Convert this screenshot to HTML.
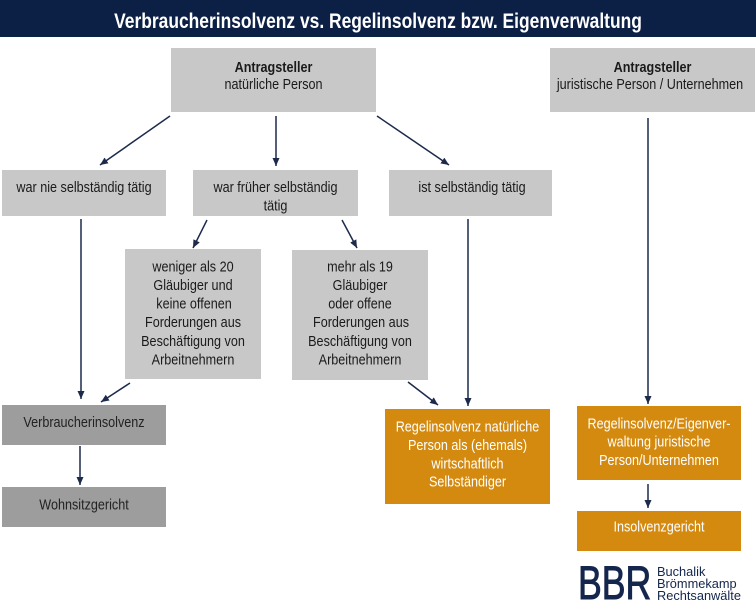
<!DOCTYPE html>
<html>
<head>
<meta charset="utf-8">
<style>
  html,body{margin:0;padding:0;background:#ffffff;}
  svg{display:block;}
  text{font-family:"Liberation Sans", Arial, sans-serif;}
</style>
</head>
<body>
<svg width="756" height="611" viewBox="0 0 756 611" xmlns="http://www.w3.org/2000/svg">
  <defs>
    <marker id="ah" markerUnits="userSpaceOnUse" markerWidth="9" markerHeight="8" refX="8" refY="3.5" orient="auto">
      <path d="M0,0 L8,3.5 L0,7 z" fill="#1c2b4b"/>
    </marker>
  </defs>

  <!-- Title bar -->
  <rect x="0" y="0" width="756" height="37" fill="#0c1f45"/>
  <text transform="translate(378,28) scale(0.83,1)" text-anchor="middle" font-size="21" font-weight="bold" fill="#ffffff">Verbraucherinsolvenz vs. Regelinsolvenz bzw. Eigenverwaltung</text>

  <!-- Boxes -->
  <g fill="#c8c8c8">
    <rect x="171" y="48" width="205" height="64"/>
    <rect x="550" y="48" width="205" height="64"/>
    <rect x="2" y="170" width="164" height="46"/>
    <rect x="193" y="170" width="165" height="46"/>
    <rect x="389" y="170" width="163" height="46"/>
    <rect x="125" y="249" width="136" height="130"/>
    <rect x="292" y="250" width="136" height="130"/>
  </g>
  <g fill="#9d9d9d">
    <rect x="2" y="405" width="164" height="40"/>
    <rect x="2" y="487" width="164" height="40"/>
  </g>
  <g fill="#d38a0f">
    <rect x="385" y="409" width="165" height="95"/>
    <rect x="577" y="406" width="164" height="74"/>
    <rect x="577" y="511" width="164" height="40"/>
  </g>

  <!-- Text in boxes -->
  <g font-size="14.5" fill="#1a1a1a" text-anchor="middle">
    <text transform="translate(273.5,72) scale(0.87,1)" font-weight="bold">Antragsteller</text>
    <text transform="translate(273.5,89) scale(0.87,1)">natürliche Person</text>

    <text transform="translate(652.5,72) scale(0.87,1)" font-weight="bold">Antragsteller</text>
    <text transform="translate(650,89) scale(0.87,1)">juristische Person / Unternehmen</text>

    <text transform="translate(84,192) scale(0.87,1)">war nie selbständig tätig</text>
    <text transform="translate(275.5,192) scale(0.87,1)">war früher selbständig</text>
    <text transform="translate(275.5,210.5) scale(0.87,1)">tätig</text>
    <text transform="translate(472,192) scale(0.87,1)">ist selbständig tätig</text>

    <text transform="translate(193,271.5) scale(0.87,1)">weniger als 20</text>
    <text transform="translate(193,290) scale(0.87,1)">Gläubiger und</text>
    <text transform="translate(194,308.6) scale(0.87,1)">keine offenen</text>
    <text transform="translate(193,327.2) scale(0.87,1)">Forderungen aus</text>
    <text transform="translate(193,345.8) scale(0.87,1)">Beschäftigung von</text>
    <text transform="translate(193,364.4) scale(0.87,1)">Arbeitnehmern</text>

    <text transform="translate(360,271.5) scale(0.87,1)">mehr als 19</text>
    <text transform="translate(360,290) scale(0.87,1)">Gläubiger</text>
    <text transform="translate(360,308.6) scale(0.87,1)">oder offene</text>
    <text transform="translate(361,327.2) scale(0.87,1)">Forderungen aus</text>
    <text transform="translate(360,345.8) scale(0.87,1)">Beschäftigung von</text>
    <text transform="translate(360,364.4) scale(0.87,1)">Arbeitnehmern</text>

    <text transform="translate(84,427) scale(0.87,1)" fill="#222">Verbraucherinsolvenz</text>
    <text transform="translate(84,509.5) scale(0.87,1)" fill="#222">Wohnsitzgericht</text>
  </g>
  <g font-size="14.5" fill="#ffffff" text-anchor="middle">
    <text transform="translate(467.5,431.5) scale(0.87,1)">Regelinsolvenz natürliche</text>
    <text transform="translate(467.5,450) scale(0.87,1)">Person als (ehemals)</text>
    <text transform="translate(467.5,468.3) scale(0.87,1)">wirtschaftlich</text>
    <text transform="translate(467.5,486.6) scale(0.87,1)">Selbständiger</text>

    <text transform="translate(659,428.3) scale(0.87,1)">Regelinsolvenz/Eigenver-</text>
    <text transform="translate(659,446.7) scale(0.87,1)">waltung juristische</text>
    <text transform="translate(659,465) scale(0.87,1)">Person/Unternehmen</text>

    <text transform="translate(659,531.5) scale(0.87,1)">Insolvenzgericht</text>
  </g>

  <!-- Connectors -->
  <g stroke="#1c2b4b" stroke-width="1.5" fill="none" marker-end="url(#ah)">
    <line x1="170" y1="116" x2="100" y2="165"/>
    <line x1="276" y1="116" x2="276" y2="166"/>
    <line x1="377" y1="116" x2="449" y2="165"/>
    <line x1="81" y1="219" x2="81" y2="399"/>
    <line x1="207" y1="220" x2="193" y2="248"/>
    <line x1="342" y1="220" x2="357" y2="248"/>
    <line x1="130" y1="383" x2="101" y2="402"/>
    <line x1="80" y1="446" x2="80" y2="485"/>
    <line x1="408" y1="382" x2="438" y2="405"/>
    <line x1="468" y1="219" x2="468" y2="406"/>
    <line x1="648" y1="118" x2="648" y2="404"/>
    <line x1="648" y1="484" x2="648" y2="508"/>
  </g>

  <!-- Logo -->
  <text transform="translate(578,599) scale(0.75,1)" font-size="47.5" fill="#14264d" stroke="#14264d" stroke-width="1">BBR</text>
  <g font-size="12.8" fill="#14264d">
    <text x="657" y="576">Buchalik</text>
    <text x="657" y="588">Brömmekamp</text>
    <text x="657" y="600">Rechtsanwälte</text>
  </g>
</svg>
</body>
</html>
